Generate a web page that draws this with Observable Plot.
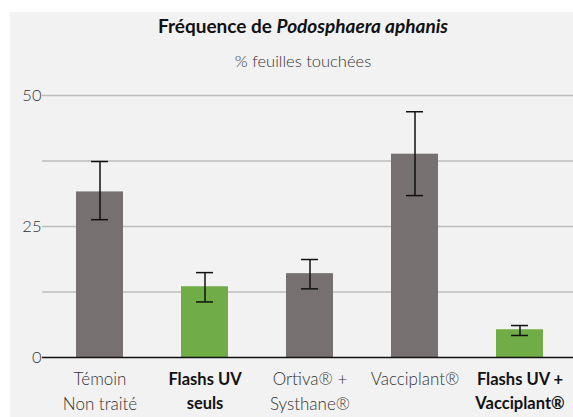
<!DOCTYPE html>
<html>
<head>
<meta charset="utf-8">
<script src="https://cdn.jsdelivr.net/npm/d3@7"></script>
<script src="https://cdn.jsdelivr.net/npm/@observablehq/plot@0.6"></script>
<style>
  html, body { margin: 0; padding: 0; background: #ffffff; }
  #wrap { position: relative; width: 573px; height: 417px; overflow: hidden; font-family: Lato, sans-serif; }
  #panel { position: absolute; left: 10px; top: 12px; width: 563px; height: 405px; background: #f2f2f2; }
  #title { position: absolute; left: 0; width: 606px; top: 14px; text-align: center; font-size: 19px; font-weight: 700; color: #111; }
  #subtitle { position: absolute; left: 0; width: 606px; top: 51px; text-align: center; font-size: 16.5px; font-weight: 300; color: #333; }
  #chart { position: absolute; left: 0; top: 70px; }
</style>
</head>
<body>
<div id="wrap">
  <div id="panel"></div>
  <div id="title">Fréquence de <i>Podosphaera aphanis</i></div>
  <div id="subtitle">% feuilles touchées</div>
  <div id="chart"></div>
</div>
<script>
const categories = ["Témoin\nNon traité", "Flashs UV\nseuls", "Ortiva® +\nSysthane®", "Vacciplant®", "Flashs UV +\nVacciplant®"];
const values = [31.6, 13.5, 16.0, 38.8, 5.3];
const errLow = [26.3, 10.6, 13.1, 30.9, 4.2];
const errHigh = [37.4, 16.2, 18.7, 46.9, 6.1];
const groups = ["autre", "uv", "autre", "autre", "uv"];
const gridValues = [12.5, 25, 37.5, 50];
const yTickLabels = [0, 25, 50];

const data = categories.map((c, i) => ({cat: c, value: values[i], lo: errLow[i], hi: errHigh[i], group: groups[i]}));

const plot = Plot.plot({
  width: 573,
  height: 347,
  marginTop: 25,
  marginBottom: 60,
  marginLeft: 42,
  marginRight: 0,
  style: {background: "transparent", fontFamily: "Lato, sans-serif"},
  x: {domain: categories, range: [46, 572], paddingInner: 0.553, paddingOuter: 0.2765, axis: null},
  y: {domain: [0, 50], axis: null},
  color: {domain: ["autre", "uv"], range: ["#767170", "#70ad47"]},
  marks: [
    Plot.ruleY(gridValues, {stroke: "#bdbdbd", strokeWidth: 1.5}),
    Plot.text(yTickLabels, {y: d => d, text: d => String(d), frameAnchor: "left", textAnchor: "end", dx: -1, fontSize: 16.5, fontWeight: 300, fill: "#333"}),
    Plot.barY(data, {x: "cat", y: "value", fill: "group"}),
    Plot.ruleY([0], {stroke: "#111", strokeWidth: 1.5}),
    Plot.ruleX(data, {x: "cat", y1: "lo", y2: "hi", stroke: "#111", strokeWidth: 1.5}),
    Plot.tickY(data, {x: "cat", y: "lo", stroke: "#111", strokeWidth: 1.5, inset: 15}),
    Plot.tickY(data, {x: "cat", y: "hi", stroke: "#111", strokeWidth: 1.5, inset: 15}),
    Plot.text(data.filter(d => d.group !== "uv"), {x: "cat", text: "cat", frameAnchor: "bottom", lineAnchor: "top", dy: 10, lineHeight: 1.47, fontSize: 17, fontWeight: 300, fill: "#333"}),
    Plot.text(data.filter(d => d.group === "uv"), {x: "cat", text: "cat", frameAnchor: "bottom", lineAnchor: "top", dy: 10, lineHeight: 1.47, fontSize: 16.5, fontWeight: 700, fill: "#111"})
  ]
});
document.getElementById("chart").appendChild(plot);
</script>
</body>
</html>
